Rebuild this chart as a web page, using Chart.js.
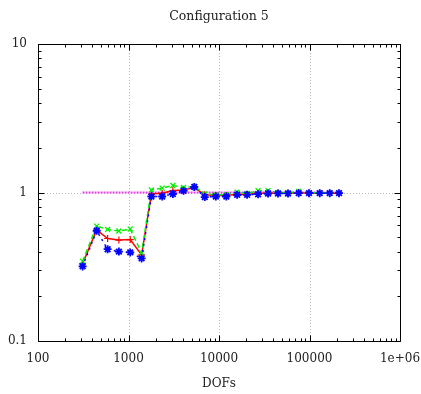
<!DOCTYPE html>
<html>
<head>
<meta charset="utf-8">
<script src="https://cdn.jsdelivr.net/npm/chart.js@4/dist/chart.umd.min.js"></script>
<style>
html,body{margin:0;padding:0;background:#fff;overflow:hidden;}
#wrap{width:421px;height:394px;}
</style>
</head>
<body>
<div id="wrap"><canvas id="c"></canvas></div>
<script>
const titleText='Configuration 5';
const xLabel='DOFs';
const dofs=[311,445,588,783,1045,1396,1791,2356,3092,4056,5335,6963,9227,12045,15855,20430,27030,34860,44890,57900,76000,98700,129700,167200,211900];
const redVals=[0.332,0.56,0.49,0.478,0.482,0.38,0.977,0.99,1.03,1.04,1.08,0.965,0.954,0.954,0.974,0.97,0.99,0.99,0.99,0.99,0.995,0.99,0.99,0.99,0.99];
const greenVals=[0.344,0.594,0.564,0.55,0.567,0.392,1.04,1.07,1.115,1.08,1.1,0.977,0.965,0.965,1.005,0.985,1.027,1.027,1.0,0.995,1.016,0.995,0.995,0.995,0.995];
const blueVals=[0.318,0.552,0.415,0.40,0.395,0.36,0.94,0.94,0.977,1.027,1.09,0.932,0.94,0.94,0.965,0.965,0.974,0.984,0.985,0.985,0.99,0.99,0.99,0.99,0.99];
const refVals=[1,1];
const xTicks=[100,1000,10000,100000,1000000];
const yTicks=[0.1,1,10];

const pts=vals=>vals.map((v,i)=>({x:dofs[i],y:v}));
const font={family:'DejaVu Serif',size:12};

const frame={
  id:'frame',
  beforeDatasetsDraw(chart){
    const {ctx,chartArea:a,scales:{x,y}}=chart;
    ctx.save();
    ctx.strokeStyle='#b8b8b8';ctx.lineWidth=1;ctx.setLineDash([1,2]);
    ctx.beginPath();
    xTicks.slice(1,-1).forEach(v=>{const px=Math.round(x.getPixelForValue(v))+0.5;ctx.moveTo(px,a.top);ctx.lineTo(px,a.bottom);});
    yTicks.slice(1,-1).forEach(v=>{const py=Math.round(y.getPixelForValue(v))+0.5;ctx.moveTo(a.left,py);ctx.lineTo(a.right,py);});
    ctx.stroke();
    ctx.restore();
  },
  afterDatasetsDraw(chart){
    const {ctx,chartArea:a,scales:{x,y}}=chart;
    ctx.save();
    ctx.strokeStyle='#000';ctx.lineWidth=1;ctx.setLineDash([]);
    ctx.beginPath();
    const L=Math.round(a.left)+0.5,R=Math.round(a.right)+0.5,T=Math.round(a.top)+0.5,B=Math.round(a.bottom)+0.5;
    ctx.rect(L,T,R-L,B-T);
    for(let d=100;d<=1000000;d*=10){
      for(let m=1;m<10;m++){
        const v=d*m;if(v>1000000)break;
        const len=m===1?6:3;
        const px=Math.round(x.getPixelForValue(v))+0.5;
        ctx.moveTo(px,B);ctx.lineTo(px,B-len);
        ctx.moveTo(px,T);ctx.lineTo(px,T+len);
      }
    }
    for(let d=0.1;d<=10.001;d*=10){
      for(let m=1;m<10;m++){
        const v=d*m;if(v>10.001)break;
        const len=m===1?6:3;
        const py=Math.round(y.getPixelForValue(v))+0.5;
        ctx.moveTo(L,py);ctx.lineTo(L+len,py);
        ctx.moveTo(R,py);ctx.lineTo(R-len,py);
      }
    }
    ctx.stroke();
    ctx.fillStyle='#222';
    ctx.font='12.5px "DejaVu Serif"';
    ctx.textAlign='center';ctx.textBaseline='middle';
    ctx.fillText(titleText,(a.left+a.right)/2,17);
    ctx.restore();
  }
};

new Chart(document.getElementById('c'),{
  type:'line',
  data:{datasets:[
    {label:'ref',data:[{x:dofs[0],y:refVals[0]},{x:dofs[dofs.length-1],y:refVals[1]}],borderColor:'#e844e8',borderWidth:2,borderDash:[2,1],pointRadius:0,order:4},
    {label:'red',data:pts(redVals),borderColor:'#ff0000',borderWidth:1.5,pointStyle:'cross',pointRadius:3.5,pointBorderColor:'#ff0000',pointBorderWidth:1.2,order:2},
    {label:'green',data:pts(greenVals),borderColor:'#00ee00',borderWidth:1.5,borderDash:[5,3],pointStyle:'crossRot',pointRadius:3.5,pointBorderColor:'#00ee00',pointBorderWidth:1.3,order:1},
    {label:'blue',data:pts(blueVals),borderColor:'#0000ff',borderWidth:1.5,borderDash:[2,4],pointStyle:'star',pointRadius:4,pointBorderColor:'#0000ff',pointBorderWidth:1.8,order:0}
  ]},
  options:{
    responsive:true,maintainAspectRatio:false,animation:false,
    layout:{padding:{top:44,right:21,left:0,bottom:0}},
    plugins:{legend:{display:false},tooltip:{enabled:false}},
    elements:{line:{tension:0,fill:false}},
    scales:{
      x:{type:'logarithmic',min:100,max:1000000,
        afterBuildTicks:s=>{s.ticks=xTicks.map(v=>({value:v}));},
        afterFit:s=>{s.height=53;s.paddingLeft=0;s.paddingRight=0;},
        grid:{display:false,drawTicks:false},border:{display:false},
        ticks:{font,color:'#222',padding:11,maxRotation:0,autoSkip:false,callback:v=>v===1000000?'1e+06':String(v)},
        title:{display:true,text:xLabel,font,color:'#222',padding:{top:4,bottom:3}}
      },
      y:{type:'logarithmic',min:0.1,max:10,
        afterBuildTicks:s=>{s.ticks=yTicks.map(v=>({value:v}));},
        afterFit:s=>{s.width=38;s.paddingTop=0;s.paddingBottom=0;},
        grid:{display:false,drawTicks:false},border:{display:false},
        ticks:{font,color:'#222',padding:11,autoSkip:false,callback:v=>String(v)}
      }
    }
  },
  plugins:[frame]
});
</script>
</body>
</html>
